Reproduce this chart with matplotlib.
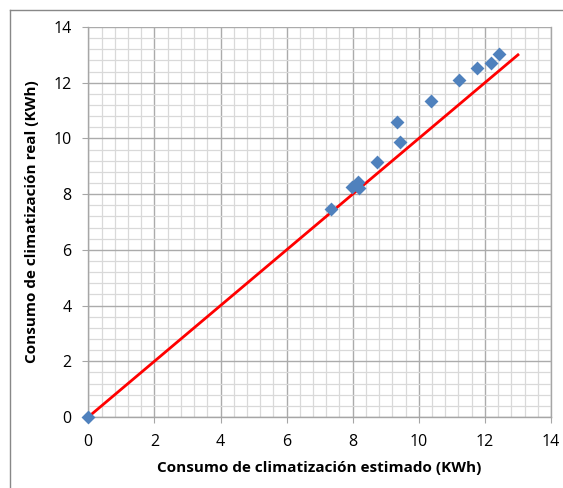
import numpy as np
import matplotlib.pyplot as plt
from matplotlib.lines import Line2D
from matplotlib.ticker import MultipleLocator

# estimated vs real consumption (KWh)
estimado = [0.0, 7.33, 7.99, 8.15, 8.2, 8.75, 9.33, 9.44, 10.36, 11.22, 11.76, 12.18, 12.43]
real = [0.0, 7.47, 8.27, 8.45, 8.21, 9.16, 10.6, 9.87, 11.34, 12.10, 12.54, 12.72, 13.03]
ref_line = [0, 13]

plt.rcParams['font.family'] = ['Open Sans', 'DejaVu Sans']

fig = plt.figure(figsize=(5.63, 4.88), dpi=100)
ax = fig.add_axes([88.3 / 563, 1 - 417 / 488, (551 - 88.3) / 563, (417 - 27) / 488])

ax.set_xlim(0, 14)
ax.set_ylim(0, 14)
ax.xaxis.set_major_locator(MultipleLocator(2))
ax.yaxis.set_major_locator(MultipleLocator(2))
ax.xaxis.set_minor_locator(MultipleLocator(0.4))
ax.yaxis.set_minor_locator(MultipleLocator(0.4))
ax.grid(which='minor', color='#d9d9d9', linewidth=0.9)
ax.grid(which='major', color='#ababab', linewidth=1.0)
ax.set_axisbelow(True)

for s in ['left', 'bottom', 'right']:
    ax.spines[s].set_color('#a6a6a6')
    ax.spines[s].set_linewidth(1.0)
ax.spines['top'].set_visible(False)
ax.tick_params(which='major', length=4, color='#a6a6a6', labelsize=11.5, pad=8)
ax.tick_params(which='minor', length=0)

ax.plot(ref_line, ref_line, color='#ff0000', linewidth=2, zorder=3)
ax.scatter(estimado, real, marker='D', s=50, color='#4f81bd', zorder=4,
           linewidths=0, clip_on=False)

ax.set_xlabel('Consumo de climatización estimado (KWh)', fontsize=11, fontweight='bold', labelpad=8)
ax.set_ylabel('Consumo de climatización real (KWh)', fontsize=11, fontweight='bold', labelpad=10)

# outer chart border
fig.add_artist(Line2D([10 / 563, 10 / 563], [0, 1 - 9.5 / 488], transform=fig.transFigure, color='#888888', linewidth=1))
fig.add_artist(Line2D([10 / 563, 1], [1 - 9.5 / 488, 1 - 9.5 / 488], transform=fig.transFigure, color='#888888', linewidth=1))

fig.savefig('out.png', dpi=100)
